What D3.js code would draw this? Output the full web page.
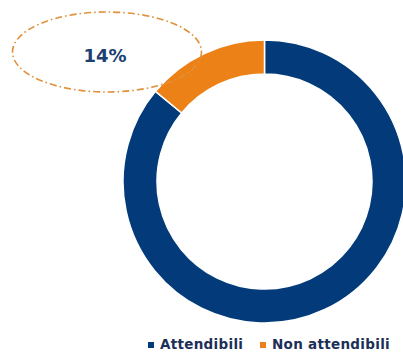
<!DOCTYPE html>
<html>
<head>
<meta charset="utf-8">
<script src="https://cdn.jsdelivr.net/npm/d3@7"></script>
<style>
  html, body { margin: 0; padding: 0; background: #fff; }
  svg { display: block; }
</style>
</head>
<body>
<svg id="chart" width="403" height="353"></svg>
<script>
const categories = ['Attendibili', 'Non attendibili']
const values = [86, 14]
const colours = ['#033b7a', '#ec8217']
const calloutLabel = '14%'

const width = 403
const height = 353
const svg = d3.select('#chart')

const cx = 264.5
const cy = 181.5
const outerR = 141.5
const innerR = 107.5

const pie = d3.pie().sort(null).value(d => d)
const arc = d3.arc().innerRadius(innerR).outerRadius(outerR)
const colour = d3.scaleOrdinal().domain(categories).range(colours)

const ring = svg.append('g').attr('transform', `translate(${cx},${cy})`)
ring.selectAll('path')
  .data(pie(values))
  .join('path')
  .attr('d', arc)
  .attr('fill', (d, i) => colour(categories[i]))
  .attr('stroke', '#fff')
  .attr('stroke-width', 1.5)

// dashed callout around the small share
const callout = svg.append('g').attr('transform', 'translate(107,52)')
callout.append('ellipse')
  .attr('rx', 94.5)
  .attr('ry', 40)
  .attr('fill', 'none')
  .attr('stroke', '#e0913a')
  .attr('stroke-width', 1.6)
  .attr('stroke-dasharray', '7 3 1.6 3')
callout.append('text')
  .attr('x', -2)
  .attr('y', 9.5)
  .attr('text-anchor', 'middle')
  .attr('font-family', 'DejaVu Sans, Verdana, sans-serif')
  .attr('font-weight', 'bold')
  .attr('font-size', 18)
  .attr('fill', '#1d3f73')
  .text(calloutLabel)

// legend
const legendX = [148, 260]
const legend = svg.append('g')
  .selectAll('g')
  .data(categories)
  .join('g')
  .attr('transform', (d, i) => `translate(${legendX[i]},349)`)
legend.append('rect')
  .attr('x', 0)
  .attr('y', -7)
  .attr('width', 6)
  .attr('height', 6)
  .attr('fill', d => colour(d))
legend.append('text')
  .attr('x', 12)
  .attr('y', 0)
  .attr('font-family', 'DejaVu Sans, Verdana, sans-serif')
  .attr('font-weight', 'bold')
  .attr('font-size', 13.5)
  .attr('letter-spacing', 0.3)
  .attr('fill', '#1b2f57')
  .text(d => d)
</script>
</body>
</html>
